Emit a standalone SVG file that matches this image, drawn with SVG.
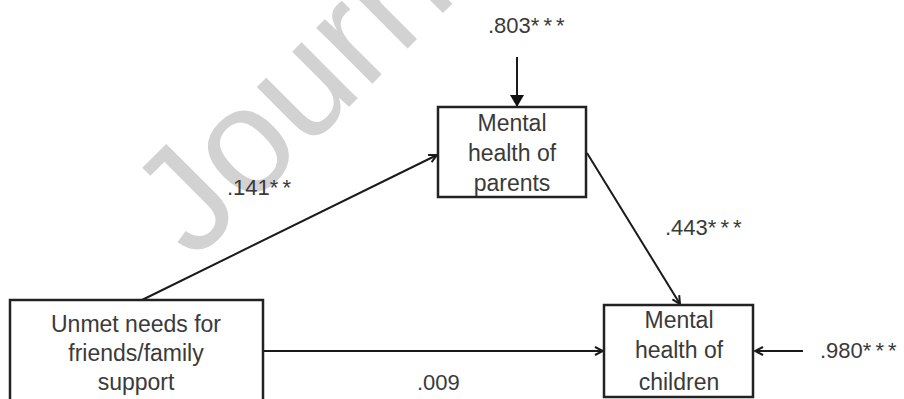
<svg xmlns="http://www.w3.org/2000/svg" width="904" height="399" viewBox="0 0 904 399">
<defs>
<style>
.box{fill:#fff;stroke:#222;stroke-width:2.5}
.lt{font-family:"Liberation Sans",Arial,sans-serif;font-size:23px;fill:#3a3a3a;text-anchor:middle}
.lb{font-family:"Liberation Sans",Arial,sans-serif;font-size:22px;fill:#3a3a3a}
.ast{letter-spacing:4px}
.wm{font-family:"Liberation Sans",Arial,sans-serif;font-size:150px;fill:#d2d2d2}
.cn{stroke:#1a1a1a;stroke-width:2;fill:none}
</style>
<marker id="open" viewBox="0 0 10 10" refX="9" refY="5" markerWidth="10" markerHeight="10" markerUnits="userSpaceOnUse" orient="auto">
<path d="M1,1 L9,5 L1,9" fill="none" stroke="#1a1a1a" stroke-width="2"/>
</marker>
<marker id="solid" viewBox="0 0 12 14" refX="12" refY="7" markerWidth="12" markerHeight="14" markerUnits="userSpaceOnUse" orient="auto">
<path d="M0,0 L12,7 L0,14 Z" fill="#111"/>
</marker>
</defs>
<text class="wm" x="194" y="262" transform="rotate(-45 194 262)">Journ</text>
<g id="connectors">
<line class="cn" x1="142" y1="300" x2="437" y2="155" marker-end="url(#open)"/>
<line class="cn" x1="587" y1="153" x2="680" y2="304" marker-end="url(#open)"/>
<line class="cn" x1="263" y1="351" x2="603" y2="351" marker-end="url(#open)"/>
<line class="cn" x1="803" y1="351" x2="755" y2="351" marker-end="url(#open)"/>
<line class="cn" x1="517" y1="57" x2="517" y2="107" marker-end="url(#solid)"/>
</g>
<g id="unmet">
<rect class="box" x="10" y="300" width="253" height="115"/>
<text class="lt" x="136" y="332">Unmet needs for</text>
<text class="lt" x="136" y="361">friends/family</text>
<text class="lt" x="136" y="390">support</text>
</g>
<g id="parents">
<rect class="box" x="438" y="107" width="148" height="90"/>
<text class="lt" x="512" y="131">Mental</text>
<text class="lt" x="512" y="161">health of</text>
<text class="lt" x="512" y="191">parents</text>
</g>
<g id="children">
<rect class="box" x="604" y="305" width="149" height="92"/>
<text class="lt" x="679" y="328">Mental</text>
<text class="lt" x="679" y="358">health of</text>
<text class="lt" x="679" y="390">children</text>
</g>
<g id="labels">
<text class="lb" x="488" y="33">.803<tspan class="ast">***</tspan></text>
<text class="lb" x="227" y="195">.141<tspan class="ast">**</tspan></text>
<text class="lb" x="665" y="235">.443<tspan class="ast">***</tspan></text>
<text class="lb" x="820" y="358">.980<tspan class="ast">***</tspan></text>
<text class="lb" x="417" y="390">.009</text>
</g>
</svg>
